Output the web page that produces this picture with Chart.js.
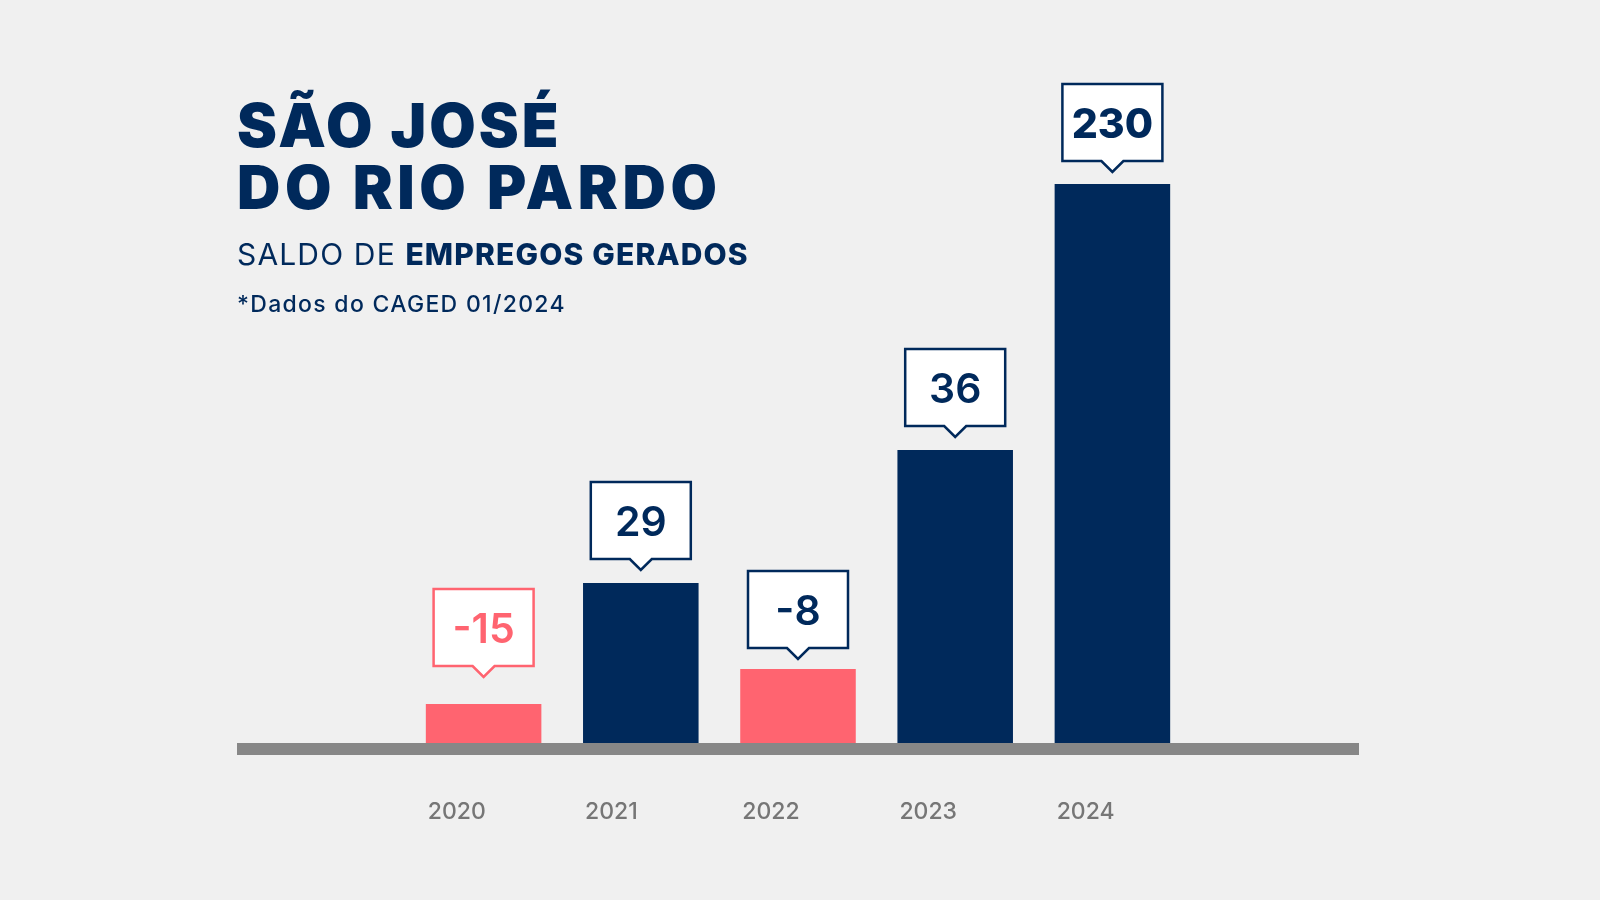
<!DOCTYPE html>
<html><head><meta charset="utf-8">
<script src="https://cdn.jsdelivr.net/npm/chart.js@4.4.1/dist/chart.umd.min.js"></script>
<style>
html,body{margin:0;padding:0;background:#f0f0f0;}
#wrap{position:relative;width:1600px;height:900px;overflow:hidden;background:#f0f0f0;}
canvas{position:absolute;left:0;top:0;}
.t{position:absolute;left:237px;color:#00295b;font-family:Inter,"Open Sans",sans-serif;white-space:nowrap;margin:0;}
#title{top:94px;font-size:60px;line-height:62px;font-weight:900;}
#title .l1{letter-spacing:3px;}
#title .l2{letter-spacing:4.6px;}
#sub{top:239px;font-size:30px;line-height:30px;font-weight:400;letter-spacing:1.15px;}
#sub b{font-weight:800;}
#note{top:293px;font-size:23px;line-height:23px;font-weight:500;letter-spacing:1.3px;}
</style></head>
<body><div id="wrap">
<canvas id="c" width="1600" height="900"></canvas>
<div class="t" id="title"><span class="l1">SÃO JOSÉ</span><br><span class="l2">DO RIO PARDO</span></div>
<div class="t" id="sub">SALDO DE <b>EMPREGOS GERADOS</b></div>
<div class="t" id="note">*Dados do CAGED 01/2024</div>
</div>
<script>
// ---- data ----
const years = ['2020', '2021', '2022', '2023', '2024'];
const saldo = [-15, 29, -8, 36, 230];
// bar heights as drawn in the infographic (bars are not drawn to scale)
const barHeights = [39, 160, 74, 293, 559];

// ---- styles ----
const NAVY = '#00295b', CORAL = '#ff6470', GRAY = '#878787';
const barColors = saldo.map(v => v < 0 ? CORAL : NAVY);
const calloutColors = [CORAL, NAVY, NAVY, NAVY, NAVY];
const calloutWeights = [600, 600, 600, 600, 800];
const calloutGaps = [27, 13, 10, 13, 12];
const FONT = 'Inter, "Open Sans", sans-serif';

const decor = {
  id: 'decor',
  beforeDatasetsDraw(chart) {
    const ctx = chart.ctx, a = chart.chartArea;
    ctx.save();
    ctx.fillStyle = GRAY;
    ctx.fillRect(237, a.bottom, 1359 - 237, 12);
    ctx.restore();
  },
  afterDatasetsDraw(chart) {
    const ctx = chart.ctx, a = chart.chartArea;
    const meta = chart.getDatasetMeta(0);
    meta.data.forEach((bar, i) => {
      const cx = bar.x;
      const tipY = bar.y - calloutGaps[i];
      const boxB = tipY - 11;
      const boxT = boxB - 77;
      const hw = 50;
      ctx.save();
      ctx.beginPath();
      ctx.moveTo(cx - hw, boxT);
      ctx.lineTo(cx + hw, boxT);
      ctx.lineTo(cx + hw, boxB);
      ctx.lineTo(cx + 11, boxB);
      ctx.lineTo(cx, tipY);
      ctx.lineTo(cx - 11, boxB);
      ctx.lineTo(cx - hw, boxB);
      ctx.closePath();
      ctx.fillStyle = '#ffffff';
      ctx.fill();
      ctx.lineWidth = 2.5;
      ctx.lineJoin = 'miter';
      ctx.strokeStyle = calloutColors[i];
      ctx.stroke();
      ctx.fillStyle = calloutColors[i];
      ctx.font = calloutWeights[i] + ' 41px ' + FONT;
      ctx.textAlign = 'center';
      ctx.textBaseline = 'alphabetic';
      ctx.fillText(String(saldo[i]), cx, (boxT + boxB) / 2 + 15);
      // year label
      ctx.fillStyle = '#767676';
      ctx.font = '500 23px ' + FONT;
      ctx.textAlign = 'left';
      ctx.fillText(years[i], bar.x - bar.width / 2 + 2, a.bottom + 76);
      ctx.restore();
    });
  }
};

new Chart(document.getElementById('c'), {
  type: 'bar',
  data: {
    labels: years,
    datasets: [{
      data: barHeights,
      backgroundColor: barColors,
      borderWidth: 0,
      categoryPercentage: 1,
      barPercentage: 0.735
    }]
  },
  options: {
    responsive: false,
    animation: false,
    devicePixelRatio: 1,
    layout: { padding: { left: 405, right: 409, top: 143, bottom: 157 } },
    plugins: { legend: { display: false }, tooltip: { enabled: false }, title: { display: false } },
    scales: {
      x: { display: false, offset: true },
      y: { display: false, min: 0, max: 600 }
    }
  },
  plugins: [decor]
});
</script>
</body></html>
